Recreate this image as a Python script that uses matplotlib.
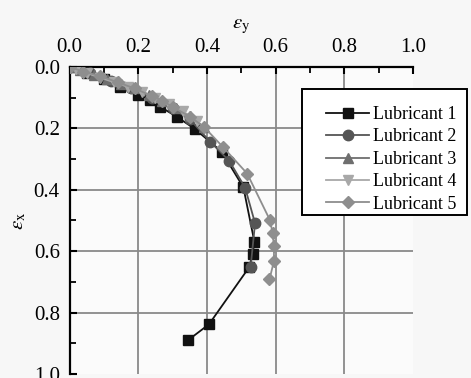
import matplotlib
matplotlib.use('Agg')
import matplotlib.pyplot as plt
from matplotlib.patches import Rectangle
from matplotlib.ticker import MultipleLocator

plt.rcParams['font.family'] = ['Liberation Serif', 'DejaVu Serif']
plt.rcParams['mathtext.fontset'] = 'stix'

names = ['Lubricant 1', 'Lubricant 2', 'Lubricant 3', 'Lubricant 4', 'Lubricant 5']

# eps_y (horizontal) and eps_x (vertical, increasing downwards)
ey1 = [0.0, 0.05, 0.10, 0.147, 0.20, 0.234, 0.263, 0.312, 0.365, 0.443, 0.506, 0.538, 0.533, 0.523, 0.406, 0.346]
ex1 = [0.0, 0.02, 0.04, 0.064, 0.09, 0.107, 0.129, 0.162, 0.202, 0.276, 0.392, 0.569, 0.609, 0.652, 0.838, 0.889]

ey2 = [0.0, 0.06, 0.12, 0.18, 0.24, 0.30, 0.35, 0.409, 0.465, 0.511, 0.540, 0.527]
ex2 = [0.0, 0.02, 0.045, 0.07, 0.10, 0.135, 0.17, 0.243, 0.306, 0.393, 0.509, 0.652]

ey3 = [0.0, 0.03, 0.07, 0.11, 0.15, 0.19, 0.23, 0.27, 0.31, 0.35, 0.39]
ex3 = [0.0, 0.01, 0.025, 0.04, 0.055, 0.07, 0.09, 0.11, 0.135, 0.16, 0.195]

ey4 = [0.0, 0.02, 0.05, 0.09, 0.13, 0.17, 0.21, 0.25, 0.29, 0.33, 0.37]
ex4 = [0.0, 0.008, 0.02, 0.035, 0.05, 0.065, 0.08, 0.10, 0.12, 0.145, 0.175]

ey5 = [0.0, 0.04, 0.09, 0.14, 0.19, 0.24, 0.27, 0.30, 0.351, 0.392, 0.446, 0.517, 0.583, 0.591, 0.595, 0.595, 0.582]
ex5 = [0.0, 0.015, 0.03, 0.05, 0.07, 0.095, 0.11, 0.13, 0.162, 0.196, 0.260, 0.347, 0.498, 0.540, 0.583, 0.632, 0.692]

series = [(ey1, ex1), (ey2, ex2), (ey3, ex3), (ey4, ex4), (ey5, ex5)]
colors = ['#111111', '#555555', '#6e6e6e', '#a8a8a8', '#8e8e8e']
markers = ['s', 'o', '^', 'v', 'D']
msizes = [7, 7.5, 7.5, 7.5, 6.5]

fig = plt.figure(figsize=(4.71, 3.78), dpi=100, facecolor='#f7f7f7')
ax = fig.add_axes([0.1476, 0.0106, 0.7295, 0.8122])
ax.set_facecolor('#fbfbfb')

for (xs, ys), c, m, ms, n in zip(series, colors, markers, msizes, names):
    ax.plot(xs, ys, color=c, marker=m, markersize=ms, lw=1.3, label=n,
            markeredgecolor=c, zorder=3)

ax.set_xlim(0, 1.0)
ax.set_ylim(1.0, 0)

ax.xaxis.set_major_locator(MultipleLocator(0.2))
ax.xaxis.set_minor_locator(MultipleLocator(0.1))
ax.yaxis.set_major_locator(MultipleLocator(0.2))
ax.yaxis.set_minor_locator(MultipleLocator(0.1))
ax.xaxis.tick_top()
ax.xaxis.set_label_position('top')
ax.xaxis.set_major_formatter(plt.FormatStrFormatter('%.1f'))
ax.yaxis.set_major_formatter(plt.FormatStrFormatter('%.1f'))
ax.tick_params(which='major', direction='in', length=5, width=1.5, labelsize=15)
ax.tick_params(axis='x', which='major', pad=7)
ax.tick_params(axis='y', which='major', pad=7)
ax.tick_params(which='minor', direction='in', length=4, width=1.3)

for v in [0.2, 0.4, 0.6, 0.8]:
    ax.axvline(v, color='#8a8a8a', lw=1.3, zorder=1)
    ax.axhline(v, color='#8a8a8a', lw=1.3, zorder=1)

ax.spines['right'].set_visible(False)
ax.spines['bottom'].set_visible(False)
ax.spines['top'].set_linewidth(1.6)
ax.spines['left'].set_linewidth(1.6)

ax.set_xlabel(r'$\varepsilon_{\mathrm{y}}$', fontsize=15, labelpad=7)
ax.set_ylabel(r'$\varepsilon_{\mathrm{x}}$', fontsize=15, labelpad=4)

# legend frame drawn separately (wide left margin, tight bottom)
frame = Rectangle((301.7 / 471, 1 - 215 / 378), 165 / 471, 125.7 / 378,
                  transform=fig.transFigure, facecolor='white', edgecolor='black',
                  lw=1.4, zorder=5)
fig.patches.append(frame)

leg = fig.legend(*ax.get_legend_handles_labels(), loc='upper left',
                 bbox_to_anchor=(326 / 471, 1 - 106 / 378), fontsize=13,
                 frameon=False, borderpad=0, handlelength=2.4, handletextpad=0.2,
                 labelspacing=0.3, borderaxespad=0)
leg.set_zorder(6)

fig.savefig('out.png', dpi=100, facecolor=fig.get_facecolor())
